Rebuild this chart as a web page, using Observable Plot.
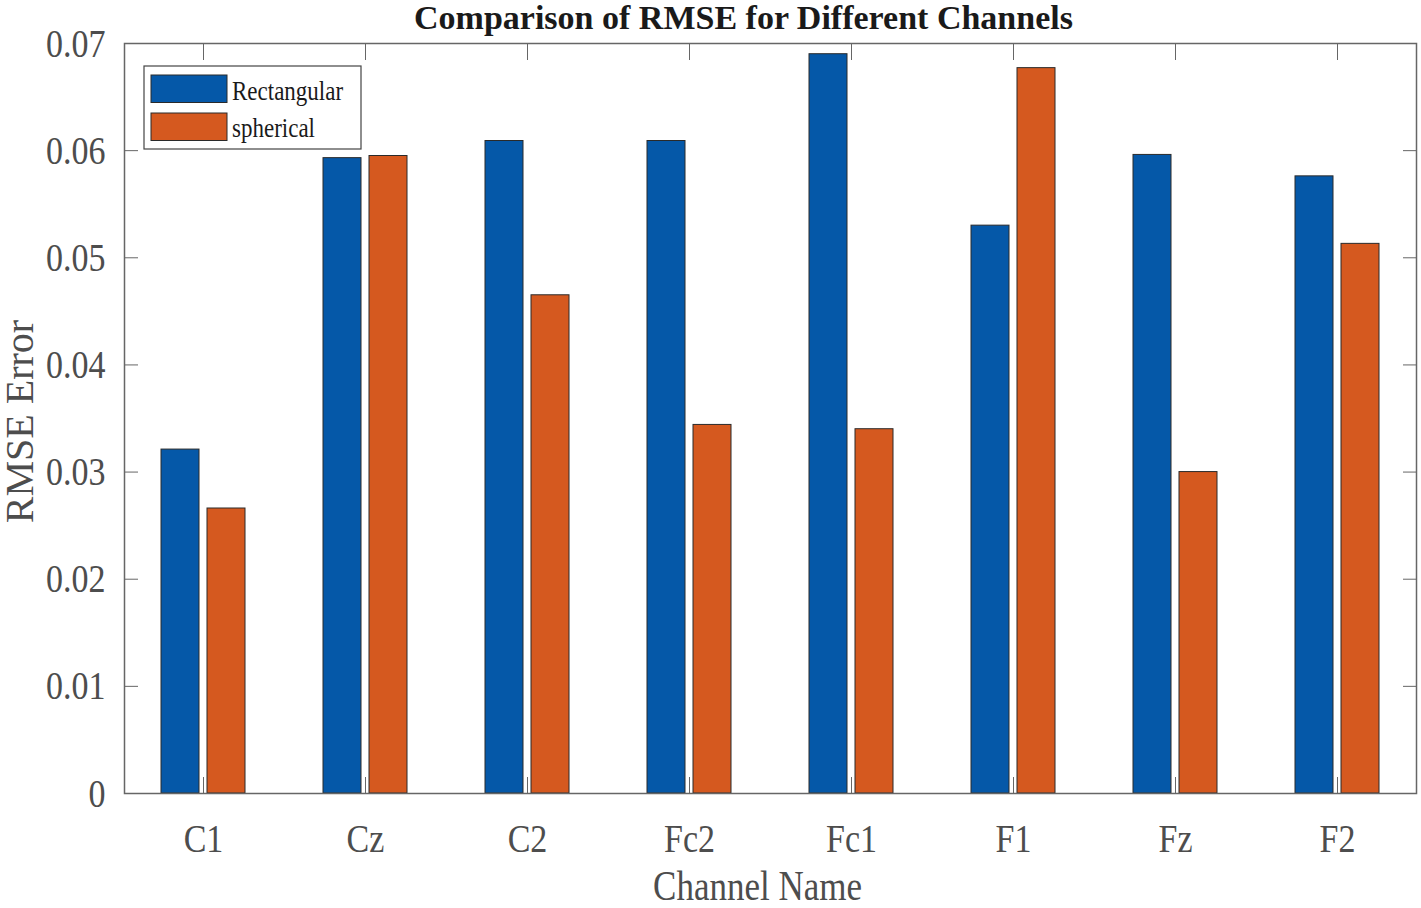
<!DOCTYPE html>
<html><head><meta charset="utf-8">
<script src="https://cdn.jsdelivr.net/npm/d3@7"></script>
<script src="https://cdn.jsdelivr.net/npm/@observablehq/plot@0.6"></script>
<style>body{margin:0;background:#fff} #chart svg{display:block}</style>
</head><body><div id="chart"></div>
<script>
const channels = ["C1", "Cz", "C2", "Fc2", "Fc1", "F1", "Fz", "F2"];
const rectangular = [0.0321, 0.0593, 0.0609, 0.0609, 0.0690, 0.0530, 0.0596, 0.0576];
const spherical = [0.0266, 0.0595, 0.0465, 0.0344, 0.0340, 0.0677, 0.0300, 0.0513];
const yTicks = [0, 0.01, 0.02, 0.03, 0.04, 0.05, 0.06, 0.07];
const seriesNames = ["Rectangular", "spherical"];
const seriesColors = ["#0558a8", "#d5591f"];
const titleText = "Comparison of RMSE for Different Channels";
const xLabel = "Channel Name";
const yLabel = "RMSE Error";

const rows = channels.map((c, i) => ({channel: c, rect: rectangular[i], sph: spherical[i]}));
const fmt = d => d === 0 ? "0" : d.toFixed(2);
const axisGray = "#666";
const textGray = "#4d4d4d";

const plot = Plot.plot({
  width: 1421, height: 908,
  marginLeft: 124, marginRight: 5, marginTop: 43, marginBottom: 115,
  style: {fontFamily: "'Liberation Serif', 'Times New Roman', serif", color: textGray, background: "#fff"},
  x: {domain: channels, padding: 0, round: false, range: [122, 1418], label: null},
  y: {domain: [0, 0.07], label: null},
  marks: [
    Plot.axisY(yTicks, {anchor: "left", tickSize: 0, tickPadding: 19, fontSize: 34, tickFormat: fmt, label: null, fill: textGray}),
    Plot.axisY(yTicks, {anchor: "left", tickSize: -14, tickFormat: () => "", label: null, stroke: axisGray}),
    Plot.axisY(yTicks, {anchor: "right", tickSize: -14, tickFormat: () => "", label: null, stroke: axisGray}),
    Plot.axisX(channels, {anchor: "bottom", tickSize: 0, tickPadding: 30, fontSize: 34, label: null, fill: textGray}),
    Plot.axisX(channels, {anchor: "bottom", tickSize: -16, tickFormat: () => "", label: null, stroke: axisGray}),
    Plot.axisX(channels, {anchor: "top", tickSize: -16, tickFormat: () => "", label: null, stroke: axisGray}),
    Plot.barY(rows, {x: "channel", y: "rect", fill: seriesColors[0], stroke: "#2a2a2a", strokeWidth: 1, insetLeft: 62, insetRight: 62, dx: -23}),
    Plot.barY(rows, {x: "channel", y: "sph", fill: seriesColors[1], stroke: "#2a2a2a", strokeWidth: 1, insetLeft: 62, insetRight: 62, dx: 23}),
    Plot.frame({stroke: axisGray, strokeWidth: 1.5}),
    Plot.text([titleText], {frameAnchor: "top", lineAnchor: "bottom", textAnchor: "middle", dy: -15, dx: -27, fontSize: 34, fontWeight: "bold", fill: "#1a1a1a"}),
    Plot.text([xLabel], {frameAnchor: "bottom", lineAnchor: "bottom", textAnchor: "middle", dy: 106, dx: -13, fontSize: 35, fill: textGray}),
    Plot.text([yLabel], {frameAnchor: "left", lineAnchor: "middle", textAnchor: "middle", rotate: -90, dx: -104, dy: 3, fontSize: 40, fill: textGray})
  ]
});

// Legend
const svg = d3.select(plot);
const lg = svg.append("g").attr("font-family", "'Liberation Serif', 'Times New Roman', serif").attr("text-anchor", "start");
lg.append("rect").attr("x", 144).attr("y", 66).attr("width", 217).attr("height", 83)
  .attr("fill", "#fff").attr("stroke", "#444").attr("stroke-width", 1.2);
const swY = [75, 113], txtY = [100, 137];
seriesNames.forEach((name, i) => {
  lg.append("rect").attr("x", 151).attr("y", swY[i]).attr("width", 76).attr("height", 27.5)
    .attr("fill", seriesColors[i]).attr("stroke", "#2a2a2a").attr("stroke-width", 1);
  lg.append("text").attr("transform", `translate(232,${txtY[i]}) scale(1,1.2)`)
    .attr("text-anchor", "start")
    .attr("font-size", 23).attr("fill", "#1a1a1a").text(name);
});

// vertical stretch of texts (as in the reference rendering)
svg.selectAll("text").each(function() {
  const t = this.textContent;
  if (t === titleText || t === yLabel || seriesNames.includes(t) || t === "") return;
  const tr = this.getAttribute("transform");
  if (tr) {
    this.setAttribute("transform", tr + " scale(1,1.2)");
  } else {
    const x = +this.getAttribute("x") || 0, y = +this.getAttribute("y") || 0;
    this.setAttribute("transform", `translate(${x},${y}) scale(1,1.2) translate(${-x},${-y})`);
  }
});

document.getElementById("chart").appendChild(plot);
</script>
</body></html>
